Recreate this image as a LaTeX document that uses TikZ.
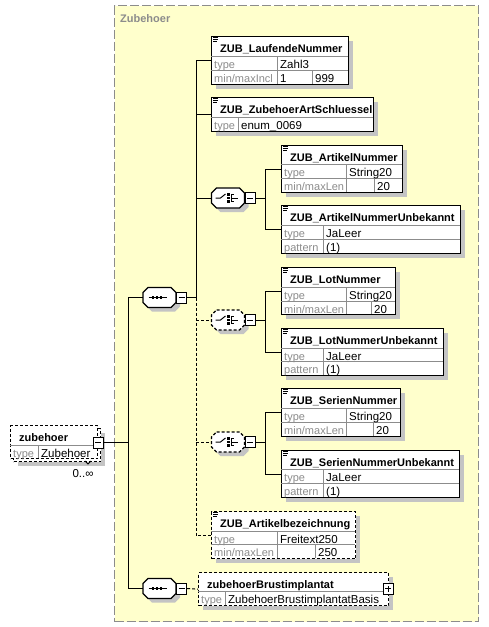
\documentclass[tikz,border=0pt]{standalone}
\usepackage{fontspec}
\setmainfont{Liberation Sans}
\usetikzlibrary{positioning,shadows}
\definecolor{grpfill}{HTML}{FFFFCC}
\definecolor{grpline}{HTML}{8C8C8C}
\definecolor{shade}{HTML}{C4C4C4}
\definecolor{keygray}{HTML}{8C8C8C}

\begin{document}
\begin{tikzpicture}[x=1pt, y=-1pt,
    shd/.style = {drop shadow={shadow xshift=4pt, shadow yshift=-4pt, fill=shade, opacity=1}},
    box/.style = {draw, line width=1.4pt, fill=white, anchor=north west, inner sep=0pt},
    elem/.style = {box, shd},
    optl/.style = {dash pattern=on 3pt off 2pt},
    grp/.style = {draw=grpline, fill=grpfill, line width=1.4pt, dash pattern=on 9pt off 3pt, anchor=north west, inner sep=0pt},
    head/.style = {anchor=base west, inner sep=0pt, font=\fontsize{11}{13}\selectfont\bfseries},
    key/.style = {anchor=base west, inner sep=0pt, text=keygray, font=\fontsize{11}{13}\selectfont},
    val/.style = {anchor=base west, inner sep=0pt, font=\fontsize{11.5}{13}\selectfont},
    grid/.style = {draw=keygray, line width=0.8pt},
    conn/.style = {line width=1pt},
    pm/.style = {draw, line width=1pt, fill=white, minimum width=10, minimum height=11, inner sep=0pt},
    minusbox/.style = {pm, path picture={\draw[solid, line width=1pt] ([xshift=-3pt]path picture bounding box.center) -- ([xshift=3pt]path picture bounding box.center);}},
    plusbox/.style = {pm, path picture={\draw[solid, line width=1pt] ([xshift=-3pt]path picture bounding box.center) -- ([xshift=3pt]path picture bounding box.center) ([yshift=-3pt]path picture bounding box.center) -- ([yshift=3pt]path picture bounding box.center);}},
    seqcomp/.pic = {
        \draw[line width=1.2pt, fill=white, shd, pic actions] (-11.5,-10) -- (11.5,-10) -- (16.5,-5) -- (16.5,5) -- (11.5,10) -- (-11.5,10) -- (-16.5,5) -- (-16.5,-5) -- cycle;
        \draw[solid, line width=1pt] (-11,0) -- (7,0);
        \foreach \u in {-6.5,-2.5,1.5} \fill[black] (\u-1.4,-1.4) rectangle ++(2.8,2.8);
        \node[inner sep=0pt, minimum width=33, minimum height=20] (-c) {};
    },
    chcomp/.pic = {
        \draw[line width=1.2pt, fill=white, shd, pic actions] (-11.5,-10) -- (11.5,-10) -- (16.5,-5) -- (16.5,5) -- (11.5,10) -- (-11.5,10) -- (-16.5,5) -- (-16.5,-5) -- cycle;
        \draw[solid, line width=1pt] (-12.5,0) -- (-7.5,0) -- (-2.5,-4);
        \draw[solid, line width=1pt] (5.5,-3.5) -- (3.5,-3.5) -- (3.5,3.5) -- (5.5,3.5) (3.5,0) -- (9.5,0);
        \foreach \v in {-3.5,0,3.5} \fill[black] (-0.9,\v-1.3) rectangle ++(2.6,2.6);
        \node[inner sep=0pt, minimum width=33, minimum height=20] (-c) {};
    },
    docmark/.pic = {\draw[line width=0.8pt] (0,0.5) -- (5,0.5) (0,2.5) -- (5,2.5) (0,4.5) -- (4,4.5);}
  ]
  \useasboundingbox (0,0) rectangle (489,627);

  % complex type
  \node[grp, minimum width=364, minimum height=616] (zgrp) at (114,5) {};
  \node[head, text=keygray] (zgrp-t) at (120,22) {Zubehoer};

  % root element
  \node[elem, optl, minimum width=87, minimum height=33] (zubB) at (13,428) {};
  \node[box, optl, minimum width=87, minimum height=33] (zub) at (10,425) {};
  \node[head] (zub-t) at (19,441) {zubehoer};
  \draw[grid] (10,445) -- (97,445) (38,445) -- (38,458);
  \node[key] (zub-k) at (13,457) {type};
  \node[val] (zub-v) at (41,457) {Zubehoer};
  \node[minusbox] (zubm) at (98,442.5) {};
  \draw[line width=1pt] (85,461) -- (88,464) -- (91,461);
  \node[val, anchor=base] (zub-n) at (83,477) {0..∞};

  % compositors
  \pic (seqA) at (159.5,297.5) {seqcomp};
  \node[minusbox, right=0pt of seqA-c] (seqAm) {};
  \pic (seqB) at (159.5,588.5) {seqcomp};
  \node[minusbox, right=0pt of seqB-c] (seqBm) {};
  \pic (ch1) at (228,198) {chcomp};
  \node[minusbox, right=0pt of ch1-c] (ch1m) {};
  \pic[optl] (ch2) at (228,320) {chcomp};
  \node[minusbox, right=0pt of ch2-c] (ch2m) {};
  \pic[optl] (ch3) at (228,442) {chcomp};
  \node[minusbox, right=0pt of ch3-c] (ch3m) {};

  % ZUB_LaufendeNummer
  \node[elem, minimum width=137, minimum height=48] (lauf) at (211,36) {};
  \pic at (213,37) {docmark};
  \node[head] (lauf-t) at (220,52) {ZUB\_LaufendeNummer};
  \draw[grid] (211,56) -- (348,56) (211,70) -- (348,70) (277,56) -- (277,84) (312,70) -- (312,84);
  \node[key] (lauf-k1) at (214,68) {type};
  \node[val] (lauf-v1) at (280,68) {Zahl3};
  \node[key] (lauf-k2) at (214,82) {min/maxIncl};
  \node[val] (lauf-v2) at (280,82) {1};
  \node[val] (lauf-v3) at (315,82) {999};

  % ZUB_ZubehoerArtSchluessel
  \node[elem, minimum width=162, minimum height=34] (art) at (211,97) {};
  \pic at (213,98) {docmark};
  \node[head] (art-t) at (220,113) {ZUB\_ZubehoerArtSchluessel};
  \draw[grid] (211,117) -- (373,117) (238,117) -- (238,131);
  \node[key] (art-k1) at (214,129) {type};
  \node[val] (art-v1) at (241,129) {enum\_0069};

  % ZUB_ArtikelNummer
  \node[elem, minimum width=121, minimum height=47] (artnr) at (281,145) {};
  \pic at (283,146) {docmark};
  \node[head] (artnr-t) at (290,161) {ZUB\_ArtikelNummer};
  \draw[grid] (281,164) -- (402,164) (281,178) -- (402,178) (346,164) -- (346,192) (374,178) -- (374,192);
  \node[key] (artnr-k1) at (284,176) {type};
  \node[val] (artnr-v1) at (349,176) {String20};
  \node[key] (artnr-k2) at (284,190) {min/maxLen};
  \node[val] (artnr-v2) at (377,190) {20};

  % ZUB_ArtikelNummerUnbekannt
  \node[elem, minimum width=179, minimum height=48] (artunb) at (281,205) {};
  \pic at (283,206) {docmark};
  \node[head] (artunb-t) at (290,221) {ZUB\_ArtikelNummerUnbekannt};
  \draw[grid] (281,225) -- (460,225) (281,239) -- (460,239) (323,225) -- (323,253);
  \node[key] (artunb-k1) at (284,237) {type};
  \node[val] (artunb-v1) at (326,237) {JaLeer};
  \node[key] (artunb-k2) at (284,251) {pattern};
  \node[val] (artunb-v2) at (326,251) {(1)};

  % ZUB_LotNummer
  \node[elem, minimum width=114, minimum height=47] (lot) at (281,267) {};
  \pic at (283,268) {docmark};
  \node[head] (lot-t) at (290,283) {ZUB\_LotNummer};
  \draw[grid] (281,287) -- (395,287) (281,301) -- (395,301) (346,287) -- (346,314) (371,301) -- (371,314);
  \node[key] (lot-k1) at (284,299) {type};
  \node[val] (lot-v1) at (349,299) {String20};
  \node[key] (lot-k2) at (284,313) {min/maxLen};
  \node[val] (lot-v2) at (374,313) {20};

  % ZUB_LotNummerUnbekannt
  \node[elem, minimum width=162, minimum height=47] (lotunb) at (281,328) {};
  \pic at (283,329) {docmark};
  \node[head] (lotunb-t) at (290,344) {ZUB\_LotNummerUnbekannt};
  \draw[grid] (281,348) -- (443,348) (281,361) -- (443,361) (323,348) -- (323,375);
  \node[key] (lotunb-k1) at (284,360) {type};
  \node[val] (lotunb-v1) at (326,360) {JaLeer};
  \node[key] (lotunb-k2) at (284,373) {pattern};
  \node[val] (lotunb-v2) at (326,373) {(1)};

  % ZUB_SerienNummer
  \node[elem, minimum width=119, minimum height=48] (ser) at (281,388) {};
  \pic at (283,389) {docmark};
  \node[head] (ser-t) at (290,404) {ZUB\_SerienNummer};
  \draw[grid] (281,408) -- (400,408) (281,422) -- (400,422) (346,408) -- (346,436) (373,422) -- (373,436);
  \node[key] (ser-k1) at (284,420) {type};
  \node[val] (ser-v1) at (349,420) {String20};
  \node[key] (ser-k2) at (284,434) {min/maxLen};
  \node[val] (ser-v2) at (376,434) {20};

  % ZUB_SerienNummerUnbekannt
  \node[elem, minimum width=178, minimum height=47] (serunb) at (281,450) {};
  \pic at (283,451) {docmark};
  \node[head] (serunb-t) at (290,466) {ZUB\_SerienNummerUnbekannt};
  \draw[grid] (281,469) -- (459,469) (281,483) -- (459,483) (323,469) -- (323,497);
  \node[key] (serunb-k1) at (284,481) {type};
  \node[val] (serunb-v1) at (326,481) {JaLeer};
  \node[key] (serunb-k2) at (284,495) {pattern};
  \node[val] (serunb-v2) at (326,495) {(1)};

  % ZUB_Artikelbezeichnung
  \node[elem, optl, minimum width=144, minimum height=47] (bez) at (211,511) {};
  \pic at (213,512) {docmark};
  \node[head] (bez-t) at (220,527) {ZUB\_Artikelbezeichnung};
  \draw[grid] (211,531) -- (355,531) (211,544) -- (355,544) (277,531) -- (277,558) (315,544) -- (315,558);
  \node[key] (bez-k1) at (214,543) {type};
  \node[val] (bez-v1) at (280,543) {Freitext250};
  \node[key] (bez-k2) at (214,556) {min/maxLen};
  \node[val] (bez-v2) at (318,556) {250};

  % zubehoerBrustimplantat
  \node[elem, optl, minimum width=190, minimum height=33] (brust) at (198,572) {};
  \node[head] (brust-t) at (207,588) {zubehoerBrustimplantat};
  \draw[grid] (198,591) -- (388,591) (225,591) -- (225,605);
  \node[key] (brust-k1) at (201,603) {type};
  \node[val] (brust-v1) at (228,603) {ZubehoerBrustimplantatBasis};
  \node[plusbox] (brustp) at (388,588.5) {};

  % connectors
  \coordinate (busA) at (128,442.5);
  \coordinate (busB) at (196,297.5);
  \coordinate (busC1) at ([xshift=10pt]ch1m.east);
  \coordinate (busC2) at ([xshift=10pt]ch2m.east);
  \coordinate (busC3) at ([xshift=10pt]ch3m.east);
  \draw[conn] (zubm.east) -- (busA) |- (seqA-c.west);
  \draw[conn] (busA) |- (seqB-c.west);
  \draw[conn] (seqAm.east) -- (busB) |- (lauf.west);
  \draw[conn] (busB |- art.west) -- (art.west);
  \draw[conn] (busB |- ch1-c.west) -- (ch1-c.west);
  \draw[conn, optl] (busB) |- (bez.west);
  \draw[conn, optl] (busB |- ch2-c.west) -- (ch2-c.west);
  \draw[conn, optl] (busB |- ch3-c.west) -- (ch3-c.west);
  \draw[conn, optl] (seqBm.east) -- (brust.west);
  \draw[conn] (ch1m.east) -- (busC1);
  \draw[conn] (artnr.west) -| (busC1) |- (artunb.west);
  \draw[conn] (ch2m.east) -- (busC2);
  \draw[conn] (lot.west) -| (busC2) |- (lotunb.west);
  \draw[conn] (ch3m.east) -- (busC3);
  \draw[conn] (ser.west) -| (busC3) |- (serunb.west);
\end{tikzpicture}
\end{document}
